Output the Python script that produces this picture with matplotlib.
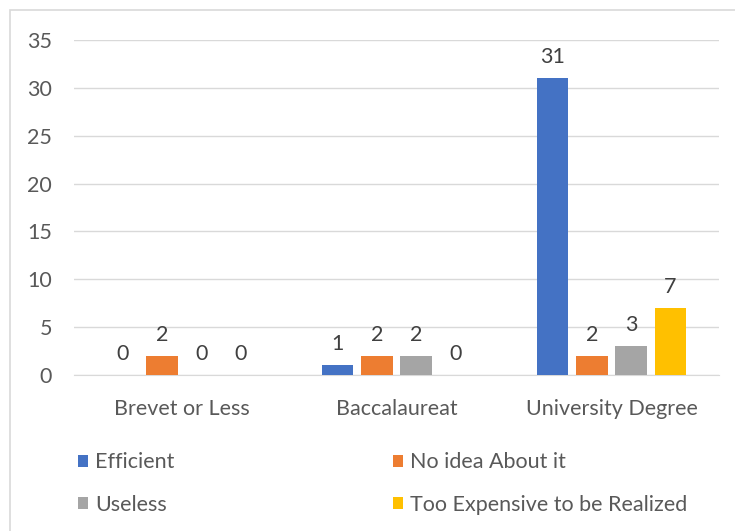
import matplotlib.pyplot as plt
import matplotlib.patches as patches
import numpy as np

categories = ['Brevet or Less', 'Baccalaureat', 'University Degree']
series = ['Efficient', 'No idea About it', 'Useless', 'Too Expensive to be Realized']
values = [
    [0, 1, 31],   # Efficient
    [2, 2, 2],    # No idea About it
    [0, 2, 3],    # Useless
    [0, 0, 7],    # Too Expensive to be Realized
]
colors = ['#4472C4', '#ED7D31', '#A5A5A5', '#FFC000']

plt.rcParams['font.family'] = ['Lato', 'DejaVu Sans']
text_color = '#595959'
grid_color = '#D9D9D9'
fs = 15.5

fig = plt.figure(figsize=(7.35, 5.31), dpi=100)
ax = fig.add_axes([0.1007, 0.2938, 0.8775, 0.6309])

x = np.arange(len(categories))
width = 0.145
step = 0.182
bars = []
for i, (name, vals, col) in enumerate(zip(series, values, colors)):
    b = ax.bar(x + (i - 1.5) * step, vals, width, color=col, label=name, zorder=3)
    bars.append(b)
    for rect, v in zip(b, vals):
        ax.annotate(str(v), (rect.get_x() + rect.get_width() / 2, v),
                    xytext=(0, 8), textcoords='offset points',
                    ha='center', va='bottom', fontsize=fs, color='#404040')

ax.set_xlim(-0.5, 2.5)
ax.set_ylim(0, 35)
ax.set_yticks(range(0, 36, 5))
ax.set_xticks(x)
ax.set_xticklabels(categories)
ax.yaxis.grid(True, color=grid_color, linewidth=1)
ax.set_axisbelow(True)
for s in ['top', 'right', 'left']:
    ax.spines[s].set_visible(False)
ax.spines['bottom'].set_color(grid_color)
ax.tick_params(axis='both', length=0, labelsize=fs, colors=text_color)
ax.tick_params(axis='y', pad=16)
ax.tick_params(axis='x', pad=17)

leg_kw = dict(loc='upper left', frameon=False, fontsize=fs, labelcolor=text_color,
              handlelength=0.45, handleheight=0.45, handletextpad=0.35,
              labelspacing=1.04, borderpad=0, borderaxespad=0)
leg1 = fig.legend([bars[0], bars[2]], [series[0], series[2]],
                  bbox_to_anchor=(78 / 735, 0.148), **leg_kw)
leg2 = fig.legend([bars[1], bars[3]], [series[1], series[3]],
                  bbox_to_anchor=(393 / 735, 0.148), **leg_kw)

fig.patches.append(patches.Rectangle((10 / 735, -0.01), 1.0, 1 - 10 / 531 + 0.01,
                                     transform=fig.transFigure, fill=False,
                                     edgecolor=grid_color, linewidth=1.2))

fig.savefig('out.png', dpi=100)
